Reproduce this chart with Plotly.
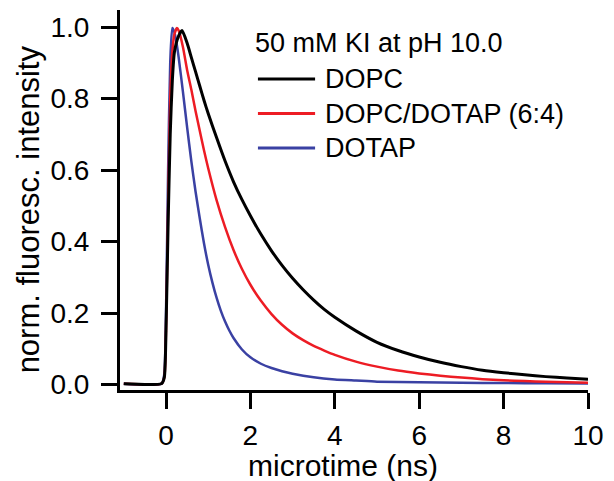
import plotly.graph_objects as go

# ---- data ----
dopc_x = [-1.0, -0.1, -0.04, 0.0, 0.05, 0.1, 0.15, 0.2, 0.3, 0.38, 0.5, 0.6, 0.7, 0.8, 0.9, 1.0,
          1.2, 1.4, 1.6, 1.8, 2.0, 2.25, 2.5, 2.75, 3.0, 3.25, 3.5, 3.75, 4.0, 4.5, 5.0, 5.5, 6.0,
          6.5, 7.0, 7.5, 8.0, 8.5, 9.0, 9.5, 10.0]
dopc_y = [0.002, 0.003, 0.02, 0.15, 0.45, 0.70, 0.85, 0.93, 0.975, 0.99, 0.955, 0.915, 0.875, 0.835, 0.795, 0.758,
          0.69, 0.625, 0.567, 0.517, 0.472, 0.420, 0.374, 0.333, 0.297, 0.265, 0.236, 0.210, 0.188, 0.150, 0.118, 0.095, 0.077,
          0.062, 0.050, 0.040, 0.033, 0.027, 0.022, 0.018, 0.0145]

mix_x = [-1.0, -0.1, -0.04, 0.0, 0.05, 0.1, 0.15, 0.2, 0.26, 0.3, 0.4, 0.5, 0.6, 0.7, 0.8, 0.9, 1.0,
         1.2, 1.4, 1.6, 1.8, 2.0, 2.25, 2.5, 2.75, 3.0, 3.25, 3.5, 3.75, 4.0, 4.5, 5.0, 5.5, 6.0,
         6.5, 7.0, 7.5, 8.0, 8.5, 9.0, 9.5, 10.0]
mix_y = [0.002, 0.003, 0.02, 0.15, 0.5, 0.8, 0.93, 0.98, 0.997, 0.99, 0.945, 0.88, 0.825, 0.765, 0.71, 0.655, 0.605,
         0.515, 0.44, 0.376, 0.323, 0.279, 0.234, 0.197, 0.167, 0.143, 0.124, 0.108, 0.095, 0.083, 0.064, 0.050, 0.039, 0.031,
         0.0245, 0.0195, 0.015, 0.012, 0.0095, 0.0075, 0.006, 0.005]

dotap_x = [-1.0, -0.1, -0.04, 0.0, 0.05, 0.1, 0.15, 0.2, 0.25, 0.3, 0.4, 0.5, 0.6, 0.7, 0.8, 0.9, 1.0,
           1.1, 1.2, 1.3, 1.4, 1.5, 1.6, 1.8, 2.0, 2.25, 2.5, 2.75, 3.0, 3.5, 4.0, 4.5, 5.0, 6.0,
           7.0, 8.0, 9.0, 10.0]
dotap_y = [0.002, 0.003, 0.03, 0.2, 0.6, 0.9, 0.997, 0.985, 0.955, 0.915, 0.82, 0.72, 0.625, 0.54, 0.465, 0.395, 0.335,
           0.285, 0.242, 0.206, 0.176, 0.151, 0.130, 0.098, 0.076, 0.058, 0.046, 0.037, 0.030, 0.020, 0.014, 0.011, 0.008, 0.006,
           0.005, 0.004, 0.0035, 0.003]

series_names = ["DOPC", "DOPC/DOTAP (6:4)", "DOTAP"]
series_colors = ["#000000", "#ED1C24", "#3A41A3"]
legend_title = "50 mM KI at pH 10.0"
x_title = "microtime (ns)"
y_title = "norm. fluoresc. intensity"
x_ticks = [0, 2, 4, 6, 8, 10]
y_ticks = [0.0, 0.2, 0.4, 0.6, 0.8, 1.0]

FONT = "Liberation Sans, Arial, Helvetica, sans-serif"

fig = go.Figure()
# draw order: blue, red, black (black on top)
fig.add_trace(go.Scatter(x=dotap_x, y=dotap_y, mode="lines", name=series_names[2],
                         line=dict(color=series_colors[2], width=2.5, shape="spline", smoothing=0.6),
                         showlegend=False))
fig.add_trace(go.Scatter(x=mix_x, y=mix_y, mode="lines", name=series_names[1],
                         line=dict(color=series_colors[1], width=2.5, shape="spline", smoothing=0.6),
                         showlegend=False))
fig.add_trace(go.Scatter(x=dopc_x, y=dopc_y, mode="lines", name=series_names[0],
                         line=dict(color=series_colors[0], width=3, shape="spline", smoothing=0.6),
                         showlegend=False))

W, H = 614, 481
ml, mr, mt, mb = 120, 19, 10, 91
pw, ph = W - ml - mr, H - mt - mb

def px2paper(x, y):
    return (x - ml) / pw, (H - mb - y) / ph

# manual legend
annotations = []
shapes = []
lx, ly = px2paper(255, 43)
annotations.append(dict(x=lx, y=ly, xref="paper", yref="paper", text=legend_title,
                        showarrow=False, xanchor="left", yanchor="middle",
                        font=dict(family=FONT, size=27, color="black")))
for i, (nm, col) in enumerate(zip(series_names, series_colors)):
    yy = 79 + i * 34.5
    x0, y0 = px2paper(260, yy)
    x1, _ = px2paper(318, yy)
    shapes.append(dict(type="line", xref="paper", yref="paper", x0=x0, x1=x1, y0=y0, y1=y0,
                       line=dict(color=col, width=3)))
    tx, _ = px2paper(326, yy)
    annotations.append(dict(x=tx, y=y0, xref="paper", yref="paper", text=nm,
                            showarrow=False, xanchor="left", yanchor="middle",
                            font=dict(family=FONT, size=27, color="black")))

# axis titles
ax, ay = px2paper(346, 465)
annotations.append(dict(x=ax, y=ay, xref="paper", yref="paper", text=x_title, showarrow=False,
                        xanchor="center", yanchor="middle",
                        font=dict(family=FONT, size=30, color="black")))
bx, by = px2paper(27, 209)
annotations.append(dict(x=bx, y=by, xref="paper", yref="paper", text=y_title, showarrow=False,
                        xanchor="center", yanchor="middle", textangle=-90,
                        font=dict(family=FONT, size=31, color="black")))

fig.update_layout(
    width=W, height=H,
    margin=dict(l=ml, r=mr, t=mt, b=mb),
    paper_bgcolor="white", plot_bgcolor="white",
    font=dict(family=FONT, size=28, color="black"),
    showlegend=False,
    annotations=annotations,
    shapes=shapes,
)
fig.update_xaxes(range=[-1.09, 10], tickvals=x_ticks, ticktext=[str(v) for v in x_ticks],
                 showline=True, linecolor="black", linewidth=3, mirror=False,
                 ticks="outside", ticklen=16, tickwidth=3, tickcolor="black",
                 showgrid=False, zeroline=False, tickfont=dict(size=28),
                 ticklabelstandoff=2)
fig.update_yaxes(range=[-0.0154, 1.0476], tickvals=y_ticks, ticktext=[f"{v:.1f}" for v in y_ticks],
                 showline=True, linecolor="black", linewidth=3, mirror=False,
                 ticks="outside", ticklen=16, tickwidth=3, tickcolor="black",
                 showgrid=False, zeroline=False, tickfont=dict(size=28),
                 ticklabelstandoff=6)

fig.write_html("out.html")
